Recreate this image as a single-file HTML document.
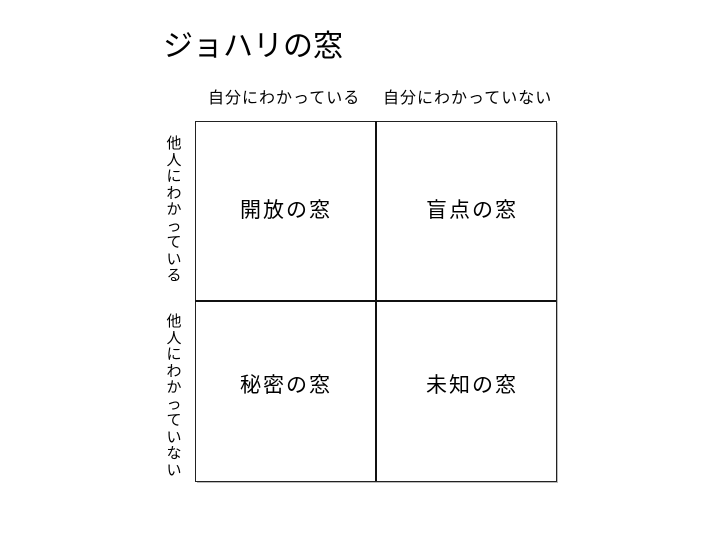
<!DOCTYPE html>
<html><head><meta charset="utf-8"><style>
body{margin:0;width:720px;height:540px;background:#fff;position:relative;overflow:hidden;font-family:"Liberation Sans","Noto Sans CJK JP",sans-serif;color:#000}
.a{position:absolute;white-space:nowrap}
.v{position:absolute;width:20px;text-align:center;font-size:15px;line-height:16.5px}
.c{font-size:21px;line-height:26px;letter-spacing:2px;text-align:center}
</style></head><body>
<div class="a" style="left:163px;top:27px;font-size:30px;line-height:40px">ジョハリの窓</div>
<div class="a" style="left:208px;top:89px;font-size:16px;line-height:20px;letter-spacing:1px">自分にわかっている</div>
<div class="a" style="left:383px;top:89px;font-size:16px;line-height:20px;letter-spacing:1px">自分にわかっていない</div>
<div class="v" style="left:164px;top:136px">他<br>人<br>に<br>わ<br>か<br>っ<br>て<br>い<br>る</div>
<div class="v" style="left:164px;top:314px">他<br>人<br>に<br>わ<br>か<br>っ<br>て<br>い<br>な<br>い</div>
<div style="position:absolute;left:197px;top:123px;width:361px;height:360px;background:#bbb"></div>
<div style="position:absolute;left:195px;top:121px;width:360px;height:359px;border:1px solid #222;background:#fff"></div>
<div style="position:absolute;left:375px;top:121px;width:2px;height:360px;background:#111"></div>
<div style="position:absolute;left:195px;top:300px;width:361px;height:2px;background:#111"></div>
<div class="a c" style="left:196px;width:180px;top:198px">開放の窓</div>
<div class="a c" style="left:376px;width:192px;top:198px">盲点の窓</div>
<div class="a c" style="left:196px;width:180px;top:373px">秘密の窓</div>
<div class="a c" style="left:376px;width:192px;top:373px">未知の窓</div>
</body></html>
